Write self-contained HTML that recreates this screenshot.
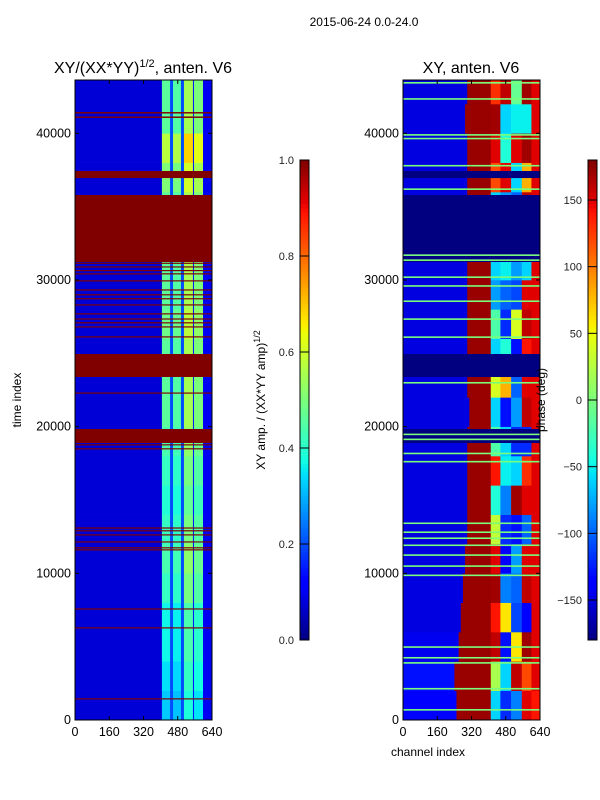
<!DOCTYPE html>
<html><head><meta charset="utf-8"><style>
html,body{margin:0;padding:0;background:#fff;}
svg{display:block;font-family:"Liberation Sans","DejaVu Sans",sans-serif;}
</style></head><body>
<svg id="fig" width="600" height="800" viewBox="0 0 600 800" xmlns="http://www.w3.org/2000/svg">
<rect x="0" y="0" width="600" height="800" fill="#fff"/>
<text x="364" y="26" font-size="12" text-anchor="middle">2015-06-24 0.0-24.0</text>
<text x="143" y="73" font-size="16" text-anchor="middle">XY/(XX*YY)<tspan font-size="11" dy="-6">1/2</tspan><tspan dy="6">, anten. V6</tspan></text>
<text x="471" y="73" font-size="16" text-anchor="middle">XY, anten. V6</text>
<text x="0" y="0" font-size="12" text-anchor="middle" transform="translate(21,400) rotate(-90)">time index</text>
<text x="428" y="756" font-size="12" text-anchor="middle">channel index</text>
<text x="0" y="0" font-size="12" text-anchor="middle" transform="translate(265,400) rotate(-90)">XY amp. / (XX*YY amp)<tspan font-size="9" dy="-5">1/2</tspan></text>
<g id="leftHeat"></g>
<g id="rightHeat"></g>
<g id="axes"></g>
<g id="cbars"></g>
<text x="0" y="0" font-size="12" text-anchor="middle" transform="translate(545,400) rotate(-90)">phase (deg)</text>
</svg>
<script>
// ---- data ----
const yTicks = [0, 10000, 20000, 30000, 40000];
const xTicks = [0, 160, 320, 480, 640];
const cb1Ticks = [0.0, 0.2, 0.4, 0.6, 0.8, 1.0];
const cb2Ticks = [-150, -100, -50, 0, 50, 100, 150];
const leftColEdges = [0, 406, 444, 458, 495, 509, 551, 556, 598, 640];
const leftColValues = [0.075, 0.46, 0.2, 0.45, 0.2, 0.55, 0.15, 0.5, 0.1];
const leftBlockAmp = [0.7,0.75,0.8,0.8,0.9,0.95,0.9,0.85,0.9,0.95,1.0,1.0,1.0,1.05,1.0,1.0,1.0,1.0,1.1,1.25,1.0,1.0];
const flagStarts = [41050,41350,36950,31227,31100,30850,30600,30380,29900,29280,28950,28680,28260,27650,27300,27040,26760,26080,23386,22250,18886,18720,18450,13050,12860,12580,12100,11700,11560,7530,6240,1400];
const flagEnds   = [41150,41450,37431,35795,31180,30930,30680,30460,29980,29360,29030,28760,28340,27730,27380,27120,26840,26160,24954,22330,19840,18800,18530,13130,12940,12660,12180,11780,11640,7610,6320,1480];
const rightRedStart = [250,240,260,270,280,290,300,300,300,300,310,300,300,300,300,300,300,300,300,300,290,300];
const rightLeftPhase = [-140,-130,-145,-150,-150,-150,-150,-150,-150,-150,-150,-150,-150,-150,-150,-150,-150,-150,-150,-150,-150,-150];
const rightMidA = [-60,20,160,140,170,150,30,-40,140,-20,-60,40,-60,-20,-80,-60,130,-60,120,150,170,130];
const rightMidB = [-120,-60,-130,60,-90,-140,-120,-90,-50,-60,-130,80,-40,-120,-100,-50,150,-80,150,-40,-60,160];
const rightMidC = [-90,160,60,-110,-100,-80,-130,170,-60,-120,-80,-100,-130,40,-110,-80,-50,-100,-60,150,-50,-10];
const rightMidD = [150,120,170,-140,160,150,-100,150,130,-120,160,150,140,160,150,-60,170,160,80,170,-50,170];
const rightEdgePhase = [140,150,150,150,150,150,150,150,150,150,150,150,150,150,150,150,150,150,150,150,150,150];
const navyStarts = [36950,31227,23386,18886];
const navyEnds = [37431,35795,24954,19840];
const limeTimes = [43450,42350,39900,39650,37800,36200,31700,31360,30200,29600,28560,27340,26110,23000,19480,19140,18180,17620,13420,12810,12400,11920,11250,10500,9870,4980,4250,3900,2140,700];

// ---- geometry ----
const Y0 = 720, Y1 = 80, TMAX = 43636;
const yScale = t => Y0 - (t / TMAX) * (Y0 - Y1);
const panels = {left: 75, right: 403};
const PW = 137;
const xScale = (base, ch) => base + ch / 640 * PW;
const cbY = v01 => 640 - v01 * 480;

function jet(v){
  v = Math.max(0, Math.min(1, v));
  function interp(pts){
    for (let i = 1; i < pts.length; i++){
      if (v <= pts[i][0]){
        const [x0,y0] = pts[i-1], [x1,y1] = pts[i];
        return y0 + (y1-y0)*(v-x0)/(x1-x0 || 1);
      }
    }
    return pts[pts.length-1][1];
  }
  const r = interp([[0,0],[0.35,0],[0.66,1],[0.89,1],[1,0.5]]);
  const g = interp([[0,0],[0.125,0],[0.375,1],[0.64,1],[0.91,0],[1,0]]);
  const b = interp([[0,0.5],[0.11,1],[0.34,1],[0.65,0],[1,0]]);
  return `rgb(${Math.round(r*255)},${Math.round(g*255)},${Math.round(b*255)})`;
}
const phaseColor = d => jet((d + 180) / 360);
const NS = "http://www.w3.org/2000/svg";
function mk(tag, attrs, parent){
  const el = document.createElementNS(NS, tag);
  for (const k in attrs) el.setAttribute(k, attrs[k]);
  parent.appendChild(el);
  return el;
}
const BLOCK = 2000;

// ---- left heatmap ----
const lg = document.getElementById('leftHeat');
for (let b = 0; b < leftBlockAmp.length; b++){
  const t0 = b*BLOCK, t1 = Math.min((b+1)*BLOCK, TMAX);
  for (let c = 0; c < leftColValues.length; c++){
    const base = leftColValues[c];
    const v = base > 0.3 ? base * leftBlockAmp[b] : base;
    const x0 = xScale(panels.left, leftColEdges[c]), x1 = xScale(panels.left, leftColEdges[c+1]);
    const r = mk('rect', {x:x0, y:yScale(t1), width:x1-x0+0.3, height:yScale(t0)-yScale(t1)+0.3, fill:jet(v)}, lg);
    
    
  }
}
for (let i = 0; i < flagStarts.length; i++){
  const r = mk('rect', {x:panels.left, y:yScale(flagEnds[i]), width:PW, height:Math.max(1, yScale(flagStarts[i])-yScale(flagEnds[i])), fill:jet(1)}, lg);
  
  
}

// ---- right heatmap ----
const rg = document.getElementById('rightHeat');
for (let b = 0; b < rightLeftPhase.length; b++){
  const t0 = b*BLOCK, t1 = Math.min((b+1)*BLOCK, TMAX);
  const segs = [
    [0, rightRedStart[b], rightLeftPhase[b]],
    [rightRedStart[b], 410, 172],
    [410, 455, rightMidA[b]],
    [455, 505, rightMidB[b]],
    [505, 555, rightMidC[b]],
    [555, 600, rightMidD[b]],
    [600, 640, rightEdgePhase[b]]
  ];
  for (const s of segs){
    const x0 = xScale(panels.right, s[0]), x1 = xScale(panels.right, s[1]);
    const r = mk('rect', {x:x0, y:yScale(t1), width:x1-x0+0.3, height:yScale(t0)-yScale(t1)+0.3, fill:phaseColor(s[2])}, rg);
    
    
  }
}
for (let i = 0; i < navyStarts.length; i++){
  const r = mk('rect', {x:panels.right, y:yScale(navyEnds[i]), width:PW, height:yScale(navyStarts[i])-yScale(navyEnds[i]), fill:phaseColor(-180)}, rg);
  
  
}
for (let i = 0; i < limeTimes.length; i++){
  const r = mk('rect', {x:panels.right, y:yScale(limeTimes[i])-0.7, width:PW, height:1.6, fill:phaseColor(0)}, rg);
  
  
}

// ---- axes ----
const ax = document.getElementById('axes');
for (const key of ['left','right']){
  const base = panels[key];
  const fr = mk('rect', {x:base, y:Y1, width:PW, height:Y0-Y1, fill:'none', stroke:'#000', 'stroke-width':1}, ax);
  
  
  for (const t of yTicks){
    const y = yScale(t);
    mk('line', {x1:base, x2:base+4, y1:y, y2:y, stroke:'#000'}, ax);
    mk('line', {x1:base+PW-4, x2:base+PW, y1:y, y2:y, stroke:'#000'}, ax);
    const lb = mk('text', {x:base-4, y:y+4, 'font-size':12.5, 'text-anchor':'end'}, ax);
    lb.textContent = t;
    
    
  }
  for (const c of xTicks){
    const x = xScale(base, c);
    mk('line', {x1:x, x2:x, y1:Y0, y2:Y0-4, stroke:'#000'}, ax);
    mk('line', {x1:x, x2:x, y1:Y1, y2:Y1+4, stroke:'#000'}, ax);
    const lb = mk('text', {x:x, y:Y0+16, 'font-size':12.5, 'text-anchor':'middle'}, ax);
    lb.textContent = c;
    
    
  }
}

// ---- colorbars ----
const cb = document.getElementById('cbars');
function colorbar(x, n, colorFn, ticks, tickPos, name){
  for (let i = 0; i < n; i++){
    const v0 = i/n, v1 = (i+1)/n;
    const r = mk('rect', {x:x, y:cbY(v1), width:9, height:cbY(v0)-cbY(v1)+0.3, fill:colorFn((v0+v1)/2)}, cb);
    
    
  }
  const f = mk('rect', {x:x, y:160, width:9, height:480, fill:'none', stroke:'#000'}, cb);
  
  
  for (const t of ticks){
    const y = cbY(tickPos(t));
    mk('line', {x1:x, x2:x+9, y1:y, y2:y, stroke:'#000'}, cb);
    const lb = mk('text', {x:x-6, y:y+4, 'font-size':11, 'text-anchor':'end', fill:'#222'}, cb);
    lb.textContent = (name === 'colorbar1') ? t.toFixed(1) : (t < 0 ? '\u2212' + Math.abs(t) : String(t));
    
    
  }
}
colorbar(300, 120, v => jet(v), cb1Ticks, t => t, 'colorbar1');
colorbar(588, 120, v => jet(v), cb2Ticks, t => (t+180)/360, 'colorbar2');
</script>
</body></html>
